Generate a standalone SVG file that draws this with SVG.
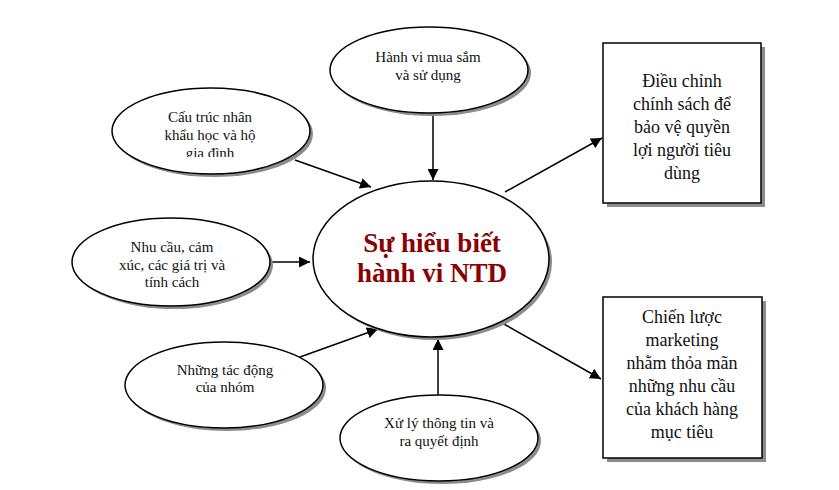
<svg xmlns="http://www.w3.org/2000/svg" width="839" height="490" viewBox="0 0 839 490">
<style>
.sh{fill:#8c8c8c;stroke:none}
.nd{fill:#fff;stroke:#000;stroke-width:1.5}
.t{font-family:"Liberation Serif","Times New Roman",serif;font-size:15px;fill:#111;text-anchor:middle}
.bt{font-family:"Liberation Serif","Times New Roman",serif;font-size:18px;fill:#111;text-anchor:middle}
.ct{font-family:"Liberation Serif","Times New Roman",serif;font-size:27px;font-weight:bold;fill:#8b0000;text-anchor:middle}
.ln{stroke:#000;stroke-width:1.5;fill:none;marker-end:url(#ah)}
</style>
<defs>
<marker id="ah" viewBox="0 0 10 10" refX="10" refY="5" markerWidth="11" markerHeight="11" markerUnits="userSpaceOnUse" orient="auto">
<path d="M0,0 L10,5 L0,10 Z" fill="#000"/>
</marker>
<clipPath id="c1"><rect x="100" y="80" width="220" height="77"/></clipPath>
</defs>
<rect width="839" height="490" fill="#fff"/>
<g id="connectors">
<line class="ln" x1="433" y1="114" x2="433" y2="180"/>
<line class="ln" x1="295" y1="160" x2="371" y2="187"/>
<line class="ln" x1="272" y1="262" x2="310" y2="262"/>
<line class="ln" x1="300" y1="357" x2="378" y2="329"/>
<line class="ln" x1="438" y1="395" x2="438" y2="339"/>
<line class="ln" x1="505" y1="192" x2="602" y2="138"/>
<line class="ln" x1="504" y1="324" x2="601" y2="379"/>
</g>
<g id="center">
<ellipse class="sh" cx="434" cy="262" rx="118" ry="78"/>
<ellipse class="nd" cx="431" cy="259" rx="118" ry="78"/>
<text class="ct" x="432" y="252">Sự hiểu biết</text>
<text class="ct" x="432" y="282">hành vi NTD</text>
</g>
<g id="n-hanhvi">
<ellipse class="sh" cx="432" cy="73" rx="99" ry="43"/>
<ellipse class="nd" cx="429" cy="70" rx="99" ry="43"/>
<text class="t" x="428" y="62">Hành vi mua sắm</text>
<text class="t" x="428" y="80">và sử dụng</text>
</g>
<g id="n-cautruc">
<ellipse class="sh" cx="214" cy="134" rx="99" ry="43"/>
<ellipse class="nd" cx="211" cy="131" rx="99" ry="43"/>
<g clip-path="url(#c1)">
<text class="t" x="210" y="122">Cấu trúc nhân</text>
<text class="t" x="210" y="140">khẩu học và hộ</text>
<text class="t" x="210" y="158">gia đình</text>
</g>
</g>
<g id="n-nhucau">
<ellipse class="sh" cx="174" cy="265" rx="99" ry="44"/>
<ellipse class="nd" cx="171" cy="262" rx="99" ry="44"/>
<text class="t" x="172" y="252">Nhu cầu, cảm</text>
<text class="t" x="172" y="270">xúc, các giá trị và</text>
<text class="t" x="172" y="287">tính cách</text>
</g>
<g id="n-tacdong">
<ellipse class="sh" cx="227" cy="388" rx="99" ry="43"/>
<ellipse class="nd" cx="224" cy="385" rx="99" ry="43"/>
<text class="t" x="225" y="375">Những tác động</text>
<text class="t" x="225" y="392">của nhóm</text>
</g>
<g id="n-xuly">
<ellipse class="sh" cx="442" cy="441" rx="99" ry="43"/>
<ellipse class="nd" cx="439" cy="438" rx="99" ry="43"/>
<text class="t" x="439" y="428">Xử lý thông tin và</text>
<text class="t" x="439" y="446">ra quyết định</text>
</g>
<g id="b-dieuchinh">
<rect class="sh" x="607" y="47" width="158" height="160"/>
<rect class="nd" x="603" y="43" width="158" height="160"/>
<text class="bt" x="682" y="87">Điều chỉnh</text>
<text class="bt" x="682" y="110">chính sách để</text>
<text class="bt" x="682" y="133">bảo vệ quyền</text>
<text class="bt" x="682" y="156">lợi người tiêu</text>
<text class="bt" x="682" y="179">dùng</text>
</g>
<g id="b-chienluoc">
<rect class="sh" x="607" y="301" width="159" height="161"/>
<rect class="nd" x="603" y="297" width="159" height="161"/>
<text class="bt" x="682" y="323">Chiến lược</text>
<text class="bt" x="682" y="346">marketing</text>
<text class="bt" x="682" y="369">nhằm thỏa mãn</text>
<text class="bt" x="682" y="392">những nhu cầu</text>
<text class="bt" x="682" y="415">của khách hàng</text>
<text class="bt" x="682" y="438">mục tiêu</text>
</g>
</svg>
